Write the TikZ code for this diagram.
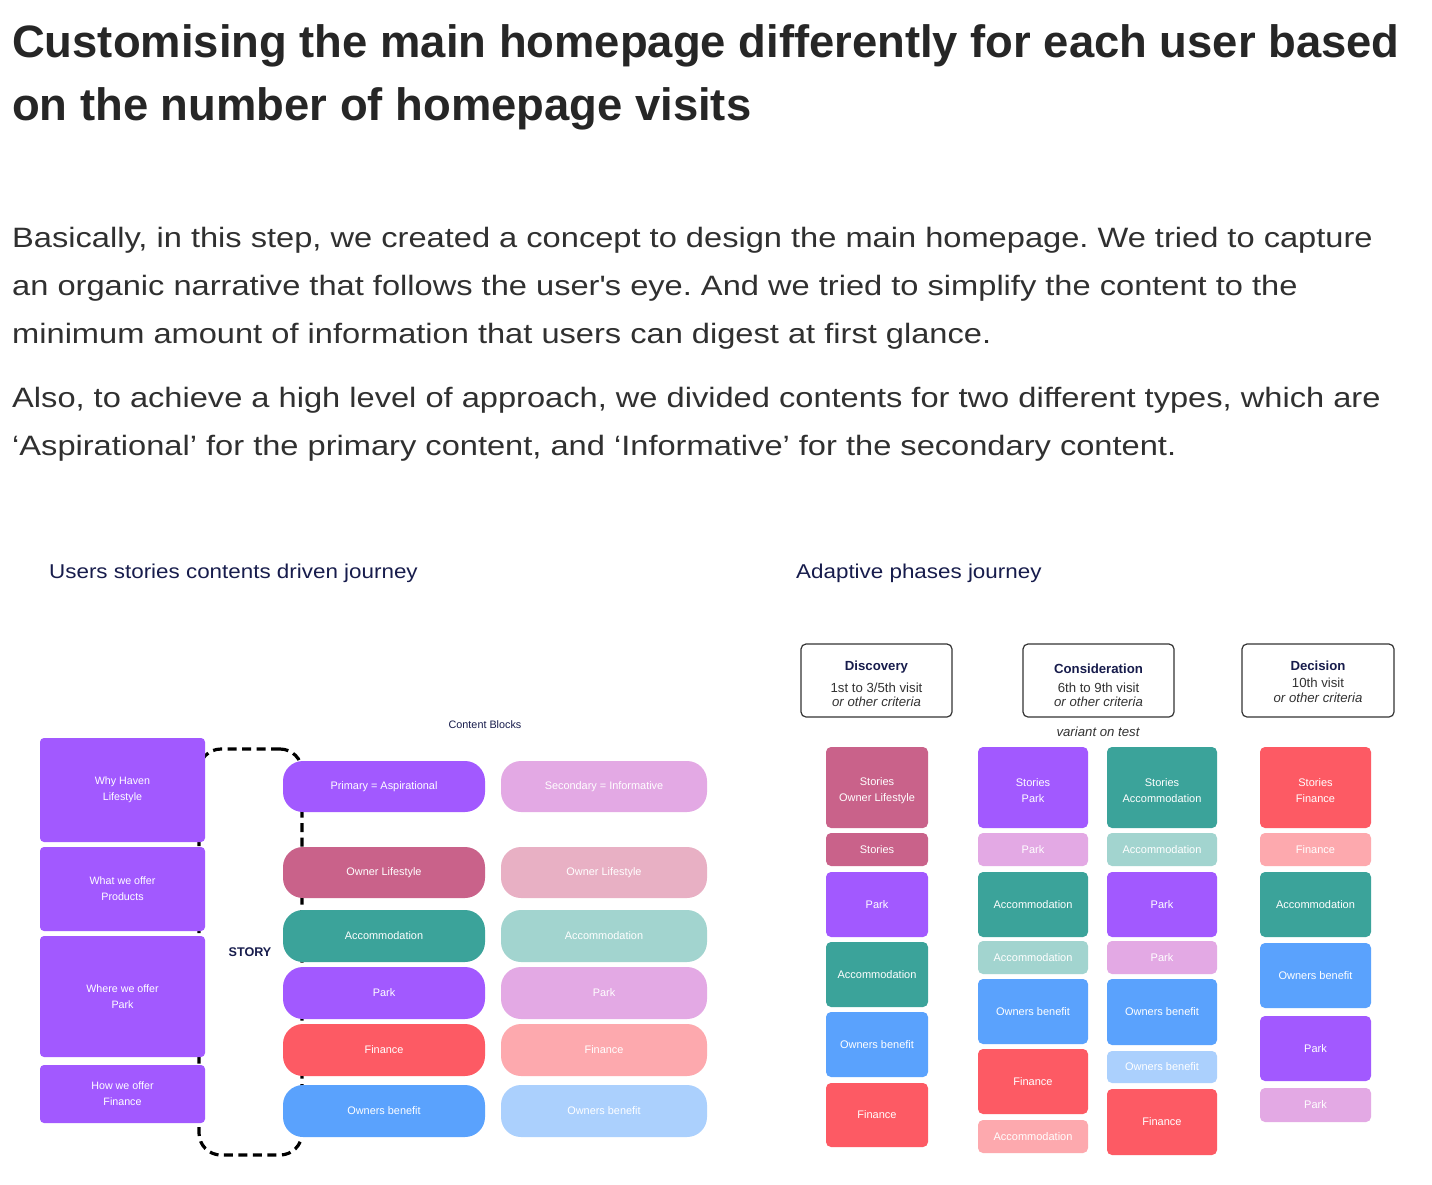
\documentclass[tikz,border=0pt]{standalone}
\usepackage{fontspec}
\setmainfont{Liberation Sans}
\newfontfamily\parafont[FakeStretch=1.165]{Liberation Sans}
\newfontfamily\headfont[FakeStretch=1.12]{Liberation Sans}
\definecolor{purp}{HTML}{A259FF}
\definecolor{rose}{HTML}{C9628A}
\definecolor{teal2}{HTML}{3BA39A}
\definecolor{red2}{HTML}{FD5A64}
\definecolor{blue2}{HTML}{5AA2FD}
\definecolor{lpurp}{HTML}{E3A9E4}
\definecolor{lrose}{HTML}{E8B0C4}
\definecolor{lteal}{HTML}{A2D4CF}
\definecolor{lred}{HTML}{FDA9AE}
\definecolor{lblue}{HTML}{ABD0FD}
\definecolor{navy}{HTML}{171C4C}
\definecolor{titlec}{HTML}{262626}
\definecolor{parac}{HTML}{303030}
\definecolor{hdr}{HTML}{333333}
\newcommand\mybox[8]{%
  \node[#1, fill=#7, minimum width={(#5-#3)*1pt}, minimum height={(#6-#4)*1pt}]
    (#2) at ({(#3+#5)/2},{(#4+#6)/2}) {#8};}
% box with its two-line text set a little below the centre
\newcommand\myboxt[8]{%
  \node[#1, fill=#7, minimum width={(#5-#3)*1pt}, minimum height={(#6-#4)*1pt}]
    (#2) at ({(#3+#5)/2},{(#4+#6)/2}) {};
  \node[#1, text=white] (#2-t) at ({(#3+#5)/2},{(#4+#6)/2+3}) {#8};}
\tikzset{
  lbox/.style={rounded corners=4pt, text=white, align=center, inner sep=0pt,
    font=\fontsize{10.7}{16}\selectfont},
  pill/.style={rounded corners=20pt, text=white, align=center, inner sep=0pt,
    font=\fontsize{10.9}{13}\selectfont},
  rbox/.style={rounded corners=5pt, text=white, align=center, inner sep=0pt,
    font=\fontsize{11}{15.4}\selectfont},
  phase/.style={draw=hdr, line width=1.2pt, rounded corners=5pt, inner sep=0pt},
  phasetxt/.style={align=center, text=hdr, inner sep=0pt,
    font=\fontsize{13.2}{14.5}\selectfont},
  titleline/.style={anchor=base west, inner sep=0pt, text=titlec,
    font=\fontsize{45.4}{54}\selectfont\bfseries},
  paraline/.style={anchor=base west, inner sep=0pt, text=parac,
    font=\parafont\fontsize{28}{34}\selectfont},
  secthead/.style={anchor=base west, inner sep=0pt, text=navy,
    font=\headfont\fontsize{20}{24}\selectfont},
  loop/.style={draw=black, line width=3.2pt, dash pattern=on 9pt off 5.5pt,
    rounded corners=22pt, inner sep=0pt},
}
\frenchspacing
\begin{document}
\frenchspacing
\begin{tikzpicture}[x=1pt,y=-1pt]
\useasboundingbox[fill=white] (0,0) rectangle (1432,1184);

% ---------- title and text ----------
\node[titleline] (t1) at (12,57) {Customising the main homepage differently for each user based};
\node[titleline] (t2) at (12,120) {on the number of homepage visits};

\node[paraline] (p1) at (12,247) {Basically, in this step, we created a concept to design the main homepage. We tried to capture};
\node[paraline] (p2) at (12,295) {an organic narrative that follows the user\textquotesingle s eye. And we tried to simplify the content to the};
\node[paraline] (p3) at (12,343) {minimum amount of information that users can digest at first glance.};
\node[paraline] (p4) at (12,407) {Also, to achieve a high level of approach, we divided contents for two different types, which are};
\node[paraline] (p5) at (12,455) {‘Aspirational’ for the primary content, and ‘Informative’ for the secondary content.};

% ---------- left diagram ----------
\node[secthead] (h1) at (49,578) {Users stories contents driven journey};
\node[text=navy, inner sep=0pt, font=\fontsize{10.8}{13}\selectfont] (cb) at (485,725) {Content Blocks};

\node[loop, minimum width=103pt, minimum height=406pt] (storyloop) at (250.5,952) {};
\node[text=navy, inner sep=0pt, font=\fontsize{12.6}{15}\selectfont\bfseries] (story) at (250,952) {STORY};

\mybox{lbox}{why}{40}{738}{205}{842}{purp}{Why Haven\\Lifestyle}
\mybox{lbox}{what}{40}{847}{205}{931}{purp}{What we offer\\Products}
\mybox{lbox}{where}{40}{936}{205}{1057}{purp}{Where we offer\\Park}
\mybox{lbox}{how}{40}{1065}{205}{1123}{purp}{How we offer\\Finance}

\mybox{pill}{pa}{283}{761}{485}{812}{purp}{Primary = Aspirational}
\mybox{pill}{pb}{283}{847}{485}{898}{rose}{Owner Lifestyle}
\mybox{pill}{pc}{283}{910}{485}{962}{teal2}{Accommodation}
\mybox{pill}{pd}{283}{967}{485}{1019}{purp}{Park}
\mybox{pill}{pe}{283}{1024}{485}{1076}{red2}{Finance}
\mybox{pill}{pf}{283}{1085}{485}{1137}{blue2}{Owners benefit}

\mybox{pill}{sa}{501}{761}{707}{812}{lpurp}{Secondary = Informative}
\mybox{pill}{sb}{501}{847}{707}{898}{lrose}{Owner Lifestyle}
\mybox{pill}{sc}{501}{910}{707}{962}{lteal}{Accommodation}
\mybox{pill}{sd}{501}{967}{707}{1019}{lpurp}{Park}
\mybox{pill}{se}{501}{1024}{707}{1076}{lred}{Finance}
\mybox{pill}{sf}{501}{1085}{707}{1137}{lblue}{Owners benefit}

% ---------- right diagram ----------
\node[secthead] (h2) at (796,578) {Adaptive phases journey};

\mybox{phase}{disc}{801}{644}{952}{717}{white}{}
\mybox{phase}{cons}{1023}{644}{1174}{717}{white}{}
\mybox{phase}{deci}{1242}{644}{1394}{717}{white}{}
\node[phasetxt] (disct) at (876.5,684) {\textcolor{navy}{\bfseries Discovery}\\[7pt]1st to 3/5th visit\\\itshape or other criteria};
\node[phasetxt] (const) at (1098.5,685.5) {\textcolor{navy}{\bfseries Consideration}\\[4pt]6th to 9th visit\\\itshape or other criteria};
\node[phasetxt] (decit) at (1318,681.5) {\textcolor{navy}{\bfseries Decision}\\[3pt]10th visit\\\itshape or other criteria};
\node[inner sep=0pt, text=hdr, font=\fontsize{13.2}{15}\selectfont\itshape] (variant) at (1098,732) {variant on test};

% column 1
\myboxt{rbox}{ra1}{826}{747}{928}{828}{rose}{Stories\\Owner Lifestyle}
\mybox{rbox}{ra2}{826}{833}{928}{866}{rose}{Stories}
\mybox{rbox}{ra3}{826}{872}{928}{937}{purp}{Park}
\mybox{rbox}{ra4}{826}{942}{928}{1007}{teal2}{Accommodation}
\mybox{rbox}{ra5}{826}{1012}{928}{1077}{blue2}{Owners benefit}
\mybox{rbox}{ra6}{826}{1083}{928}{1147}{red2}{Finance}
% column 2
\myboxt{rbox}{rb1}{978}{747}{1088}{828}{purp}{Stories\\Park}
\mybox{rbox}{rb2}{978}{833}{1088}{866}{lpurp}{Park}
\mybox{rbox}{rb3}{978}{872}{1088}{937}{teal2}{Accommodation}
\mybox{rbox}{rb4}{978}{941}{1088}{974}{lteal}{Accommodation}
\mybox{rbox}{rb5}{978}{979}{1088}{1044}{blue2}{Owners benefit}
\mybox{rbox}{rb6}{978}{1049}{1088}{1114}{red2}{Finance}
\mybox{rbox}{rb7}{978}{1120}{1088}{1153}{lred}{Accommodation}
% column 3
\myboxt{rbox}{rc1}{1107}{747}{1217}{828}{teal2}{Stories\\Accommodation}
\mybox{rbox}{rc2}{1107}{833}{1217}{866}{lteal}{Accommodation}
\mybox{rbox}{rc3}{1107}{872}{1217}{937}{purp}{Park}
\mybox{rbox}{rc4}{1107}{941}{1217}{974}{lpurp}{Park}
\mybox{rbox}{rc5}{1107}{979}{1217}{1045}{blue2}{Owners benefit}
\mybox{rbox}{rc6}{1107}{1051}{1217}{1083}{lblue}{Owners benefit}
\mybox{rbox}{rc7}{1107}{1089}{1217}{1155}{red2}{Finance}
% column 4
\myboxt{rbox}{rd1}{1260}{747}{1371}{828}{red2}{Stories\\Finance}
\mybox{rbox}{rd2}{1260}{833}{1371}{866}{lred}{Finance}
\mybox{rbox}{rd3}{1260}{872}{1371}{937}{teal2}{Accommodation}
\mybox{rbox}{rd4}{1260}{943}{1371}{1008}{blue2}{Owners benefit}
\mybox{rbox}{rd5}{1260}{1016}{1371}{1081}{purp}{Park}
\mybox{rbox}{rd6}{1260}{1088}{1371}{1122}{lpurp}{Park}
\end{tikzpicture}
\end{document}
